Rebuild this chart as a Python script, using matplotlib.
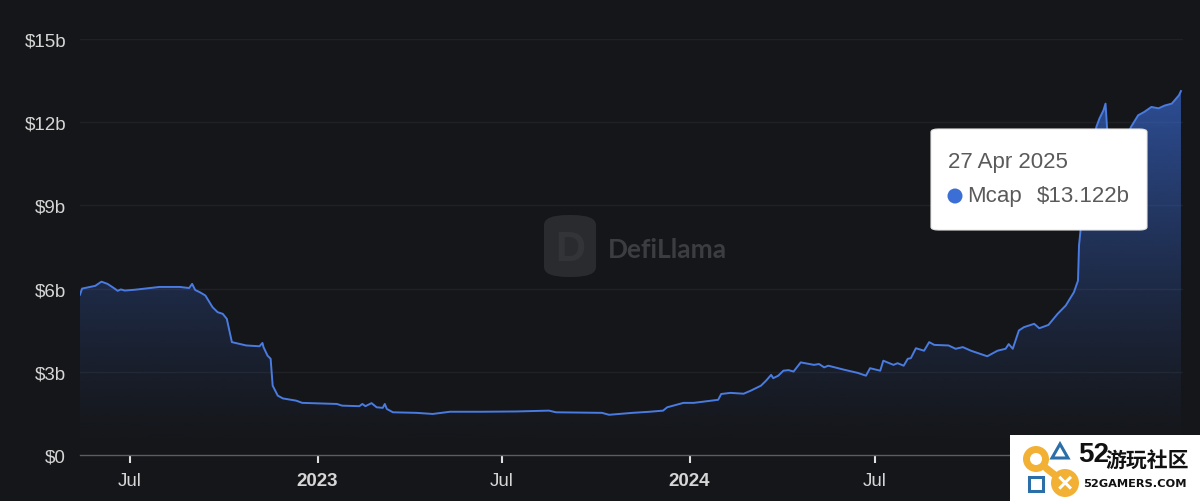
import matplotlib
matplotlib.use('Agg')
import matplotlib.pyplot as plt
import matplotlib.dates as mdates
from matplotlib.patches import FancyBboxPatch, PathPatch, Ellipse, Rectangle, Polygon
import numpy as np
import pandas as pd

# Mcap series (billions of USD)
dates = ['2022-05-13', '2022-05-15', '2022-05-28', '2022-06-03', '2022-06-09', '2022-06-16',
         '2022-06-19', '2022-06-22', '2022-06-26', '2022-07-06', '2022-07-16', '2022-07-30',
         '2022-08-19', '2022-08-28', '2022-08-31', '2022-09-03', '2022-09-08', '2022-09-13',
         '2022-09-20', '2022-09-25', '2022-09-30', '2022-10-04', '2022-10-09', '2022-10-23',
         '2022-11-05', '2022-11-08', '2022-11-09', '2022-11-13', '2022-11-16', '2022-11-18',
         '2022-11-23', '2022-11-28', '2022-12-11', '2022-12-17', '2023-01-20', '2023-01-25',
         '2023-02-11', '2023-02-14', '2023-02-17', '2023-02-23', '2023-02-28', '2023-03-06',
         '2023-03-08', '2023-03-10', '2023-03-16', '2023-04-08', '2023-04-24', '2023-05-11',
         '2023-06-12', '2023-07-15', '2023-08-16', '2023-08-23', '2023-10-07', '2023-10-14',
         '2023-11-06', '2023-11-23', '2023-12-06', '2023-12-10', '2023-12-26', '2024-01-05',
         '2024-01-29', '2024-02-01', '2024-02-10', '2024-02-23', '2024-03-01', '2024-03-11',
         '2024-03-16', '2024-03-21', '2024-03-23', '2024-03-28', '2024-04-02', '2024-04-07',
         '2024-04-12', '2024-04-19', '2024-05-02', '2024-05-07', '2024-05-12', '2024-05-16',
         '2024-05-31', '2024-06-14', '2024-06-22', '2024-06-26', '2024-07-06', '2024-07-09',
         '2024-07-19', '2024-07-23', '2024-07-29', '2024-08-02', '2024-08-05', '2024-08-10',
         '2024-08-18', '2024-08-23', '2024-08-28', '2024-09-11', '2024-09-18', '2024-09-25',
         '2024-10-03', '2024-10-19', '2024-10-29', '2024-11-06', '2024-11-09', '2024-11-13',
         '2024-11-19', '2024-11-24', '2024-12-04', '2024-12-09', '2024-12-18', '2024-12-27',
         '2025-01-04', '2025-01-12', '2025-01-16', '2025-01-17', '2025-01-19', '2025-01-27',
         '2025-02-03', '2025-02-06', '2025-02-10', '2025-02-12', '2025-02-14', '2025-02-23',
         '2025-03-04', '2025-03-09', '2025-03-16', '2025-03-22', '2025-03-29', '2025-04-05',
         '2025-04-11', '2025-04-18', '2025-04-25', '2025-04-27']
mcap = [5.78, 6.00, 6.10, 6.25, 6.17, 6.00,
        5.92, 5.97, 5.93, 5.96, 6.00, 6.06,
        6.06, 6.02, 6.17, 5.95, 5.86, 5.75,
        5.33, 5.15, 5.09, 4.91, 4.07, 3.95,
        3.92, 4.04, 3.89, 3.58, 3.47, 2.50,
        2.14, 2.04, 1.96, 1.88, 1.84, 1.78,
        1.76, 1.84, 1.76, 1.87, 1.72, 1.70,
        1.84, 1.66, 1.54, 1.52, 1.48, 1.56,
        1.56, 1.57, 1.60, 1.54, 1.52, 1.45,
        1.52, 1.56, 1.60, 1.72, 1.88, 1.88,
        1.99, 2.20, 2.24, 2.21, 2.32, 2.50,
        2.68, 2.89, 2.77, 2.86, 3.04, 3.06,
        3.01, 3.34, 3.25, 3.28, 3.16, 3.22,
        3.08, 2.96, 2.86, 3.13, 3.04, 3.40,
        3.25, 3.31, 3.22, 3.47, 3.49, 3.85,
        3.76, 4.07, 3.97, 3.95, 3.83, 3.89,
        3.76, 3.56, 3.76, 3.83, 4.00, 3.83,
        4.49, 4.61, 4.73, 4.57, 4.69, 5.09,
        5.39, 5.87, 6.29, 7.56, 8.28, 10.5,
        11.83, 12.13, 12.43, 12.67, 11.5, 11.0,
        11.4, 11.83, 12.25, 12.37, 12.55, 12.50,
        12.60, 12.67, 12.97, 13.122]

y_ticks = [0, 3, 6, 9, 12, 15]
y_labels = ['$0', '$3b', '$6b', '$9b', '$12b', '$15b']
x_ticks = ['2022-07-01', '2023-01-01', '2023-07-01', '2024-01-01', '2024-07-01']
x_labels = ['Jul', '2023', 'Jul', '2024', 'Jul']

tip_date = '27 Apr 2025'
tip_name = 'Mcap'
tip_value = '$13.122b'

BG = '#151619'
BLUE = '#4a7be0'

W, H = 1200, 502
def fx(px):
    return px / W
def fy(py):
    return 1 - py / H

def dot(cx, cy, r, color, z):
    # round dot given in pixels, drawn in figure coordinates
    return Ellipse((fx(cx), fy(cy)), 2 * r / W, 2 * r / H, transform=fig.transFigure,
                   facecolor=color, edgecolor='none', zorder=z)

plt.rcParams['font.family'] = ['Liberation Sans', 'DejaVu Sans']

fig = plt.figure(figsize=(12, 5.02), dpi=100, facecolor=BG)
ax = fig.add_axes([fx(80), fy(456), fx(1183) - fx(80), fy(40) - fy(456)])
ax.set_facecolor(BG)

d = pd.to_datetime(dates)
xn = mdates.date2num(d)
v = np.array(mcap)

ax.set_xlim(xn[0], xn[-1] + 2)
ax.set_ylim(0, 15)

# watermark (behind the data)
logo = FancyBboxPatch((fx(544), fy(278)), fx(52), fy(216) - fy(278),
                      boxstyle='round,pad=0,rounding_size=0.02', transform=fig.transFigure,
                      facecolor='#2a2b2f', edgecolor='none', zorder=0)
fig.patches.append(logo)
fig.text(fx(570), fy(250), 'D', color='#333438', fontsize=30, fontweight='bold',
         ha='center', va='center', zorder=0)
fig.text(fx(608), fy(250), 'DefiLlama', color='#3c3d41', fontsize=19, fontweight='bold',
         family=['Lato', 'DejaVu Sans'], va='center', ha='left', zorder=0)

# grid
for t in y_ticks[1:]:
    ax.axhline(t, color='#202126', lw=1, zorder=1)

# gradient fill clipped to area under the line
poly = ax.fill_between(xn, v, 0, facecolor='none', edgecolor='none')
path = poly.get_paths()[0]
clip = PathPatch(path, transform=ax.transData, facecolor='none', edgecolor='none')
ax.add_patch(clip)
n = 256
grad = np.zeros((n, 1, 4))
grad[:, 0, 0] = 0x3a / 255
grad[:, 0, 1] = 0x6c / 255
grad[:, 0, 2] = 0xd8 / 255
grad[:, 0, 3] = np.linspace(0.0, 0.72, n) ** 1.3
im = ax.imshow(grad, extent=[xn[0], xn[-1], 0, v.max()], aspect='auto', origin='lower',
               zorder=2, interpolation='bilinear')
im.set_clip_path(clip)

ax.plot(xn, v, color=BLUE, lw=1.4, zorder=3, solid_joinstyle='round')

# axes styling
for s in ['top', 'right', 'left']:
    ax.spines[s].set_visible(False)
ax.spines['bottom'].set_color('#5c5d61')
ax.spines['bottom'].set_linewidth(1)
ax.spines['bottom'].set_zorder(4)

ax.set_yticks(y_ticks)
ax.set_yticklabels(y_labels)
ax.tick_params(axis='y', length=0, pad=10, labelsize=13.5, labelcolor='#d6d6d6')

ax.set_xticks(mdates.date2num(pd.to_datetime(x_ticks)))
ax.set_xticklabels(x_labels)
ax.tick_params(axis='x', length=6, width=1.5, color='#e0e0e0', pad=6, labelsize=13.5,
               labelcolor='#d6d6d6', direction='out')
for lab in ax.get_xticklabels():
    if lab.get_text().isdigit():
        lab.set_fontweight('bold')

# tooltip
tip = FancyBboxPatch((fx(931), fy(231)), fx(1147) - fx(931), fy(130) - fy(231),
                     boxstyle='round,pad=0,rounding_size=0.006', transform=fig.transFigure,
                     facecolor='white', edgecolor='#e6e6e6', lw=0.8, zorder=10)
fig.patches.append(tip)
fig.text(fx(948), fy(163), tip_date, color='#5a5a5a', fontsize=16, va='center', ha='left', zorder=11)
fig.patches.append(dot(955, 197, 7.5, '#3b6fd6', 11))
fig.text(fx(967), fy(197), tip_name, color='#5a5a5a', fontsize=16, va='center', ha='left', zorder=11)
fig.text(fx(1037), fy(197), tip_value, color='#5a5a5a', fontsize=16, va='center', ha='left', zorder=11)

# 52gamers stamp bottom right
fig.patches.append(Rectangle((fx(1010), 0), fx(1200) - fx(1010), fy(436), transform=fig.transFigure,
                             facecolor='white', edgecolor='none', zorder=12))
fig.patches.append(Polygon([(fx(1030), fy(452)), (fx(1044), fy(472)), (fx(1072), fy(494)),
                            (fx(1058), fy(474))], closed=True, facecolor='#f2b134',
                           edgecolor='none', transform=fig.transFigure, zorder=13))
fig.patches.append(dot(1036, 460, 13, '#f2b134', 13))
fig.patches.append(dot(1065, 484, 14, '#f2b134', 13))
fig.patches.append(dot(1036, 460, 6, 'white', 14))
fig.patches.append(Polygon([(fx(1052), fy(459)), (fx(1068), fy(459)), (fx(1060), fy(445))],
                           closed=True, fill=False, edgecolor='#2b6ea8', lw=2.2,
                           transform=fig.transFigure, zorder=14))
fig.patches.append(Rectangle((fx(1029), fy(492)), 14 / W, 14 / H, transform=fig.transFigure,
                             fill=False, edgecolor='#2b6ea8', lw=2.2, zorder=14))
fig.text(fx(1065), fy(484), '×', color='white', fontsize=20, fontweight='bold',
         ha='center', va='center', zorder=14)
fig.text(fx(1078), fy(455), '52', color='#111111', fontsize=20, fontweight='bold',
         ha='left', va='center', zorder=14)
fig.text(fx(1105), fy(460), '游玩社区', color='#111111', fontsize=15, fontweight='bold',
         family=['Noto Sans CJK SC', 'DejaVu Sans'], ha='left', va='center', zorder=14)
fig.text(fx(1083), fy(484), '52GAMERS.COM', color='#111111', fontsize=8.2, fontweight='bold',
         family=['DejaVu Sans'], ha='left', va='center', zorder=14)

fig.savefig('out.png', dpi=100, facecolor=BG)
